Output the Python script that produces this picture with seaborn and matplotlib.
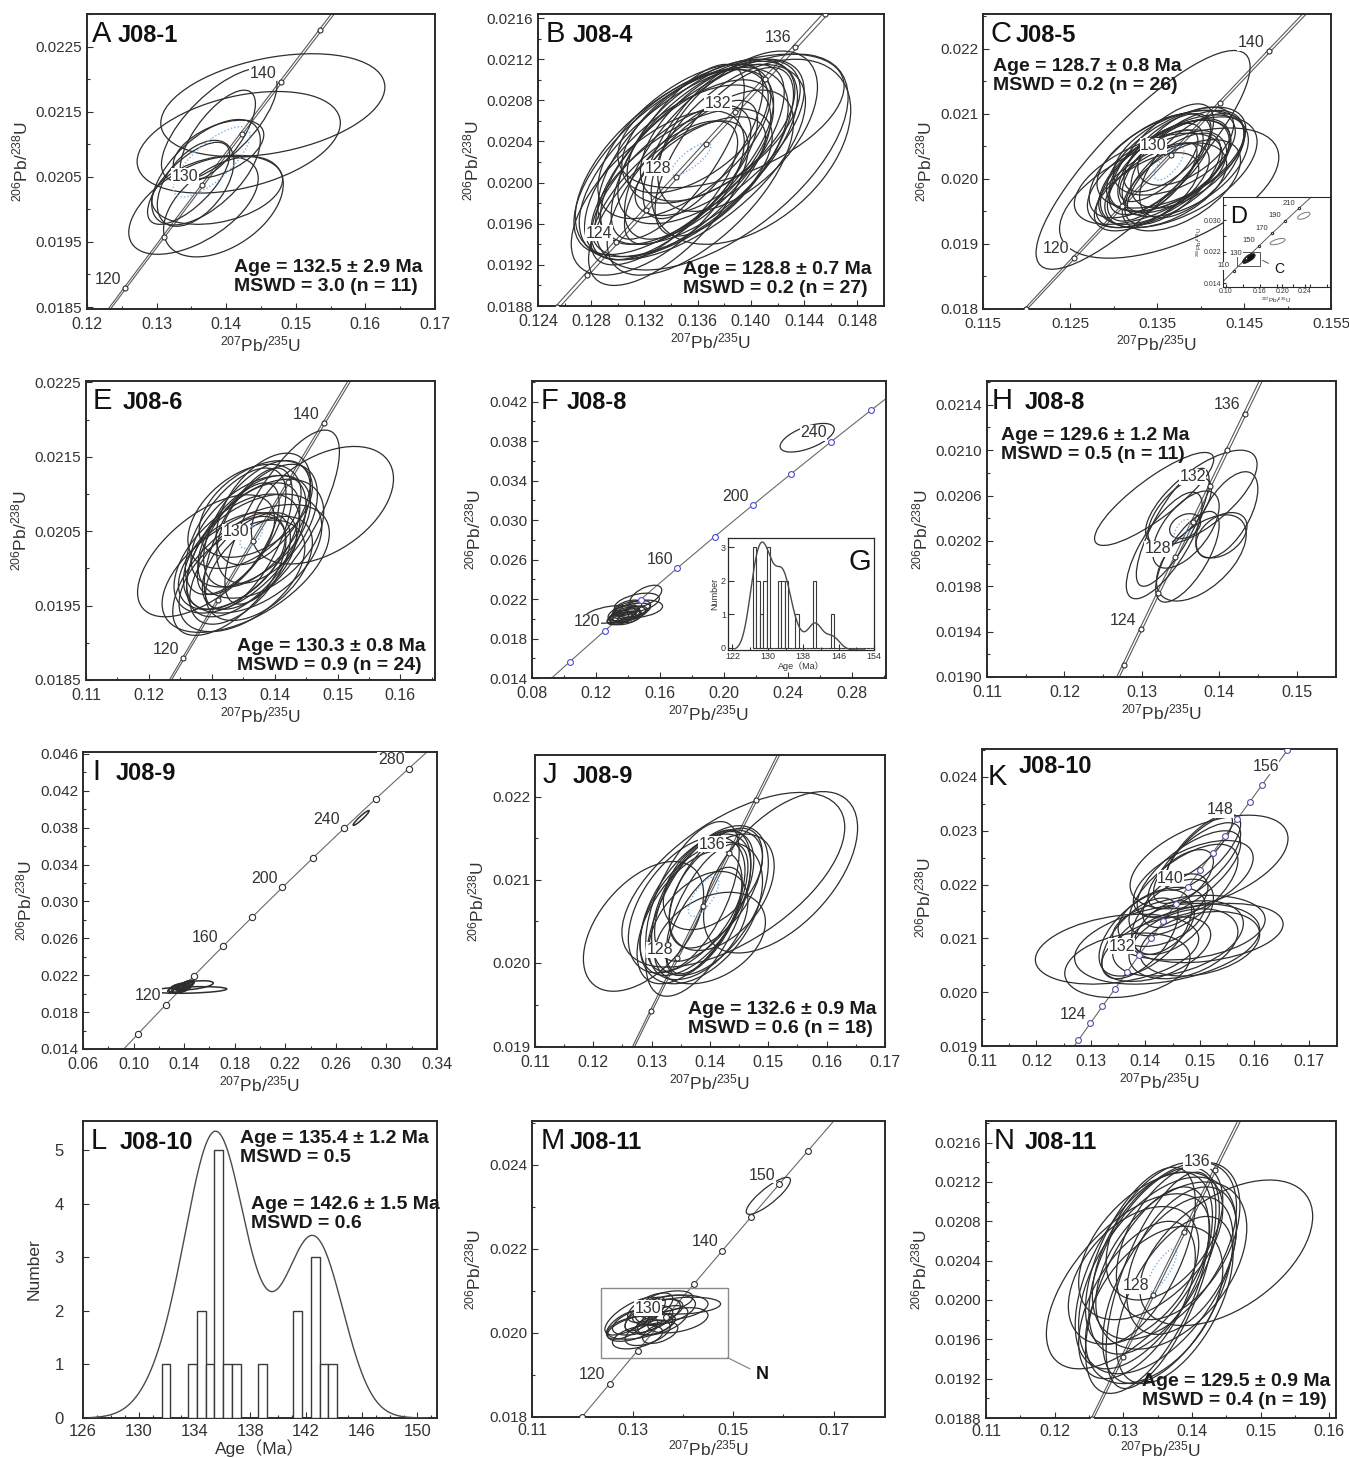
import numpy as np
import pandas as pd
import matplotlib
matplotlib.use("Agg")
import matplotlib.pyplot as plt
from matplotlib.patches import Ellipse, Rectangle
from matplotlib.ticker import FormatStrFormatter, AutoMinorLocator
import seaborn as sns

# ----------- CONSTANTES -----------
LAMBDA_238 = 1.55125e-10
LAMBDA_235 = 9.8485e-10
BAND = 0.0013          # erreur relative (2s) sur lambda 235 -> largeur de la bande concordia

INK = '#2e2e2e'
LINE = '#5a5a5a'
TICK = '#333333'
MEAN = '#7fb2e5'

# ----------- DONNÉES : (207Pb/235U, 206Pb/238U, 2s x, 2s y, rho) -----------
ell_A = [
    (0.1467, 0.02160, 0.0161, 0.00079, 0.35),
    (0.1418, 0.02103, 0.0146, 0.00078, 0.38),
    (0.1388, 0.02113, 0.0054, 0.00070, 0.70),
    (0.1390, 0.02130, 0.0083, 0.00087, 0.70),
    (0.1389, 0.02092, 0.0065, 0.00045, 0.50),
    (0.1353, 0.02006, 0.0093, 0.00075, 0.55),
    (0.1387, 0.02030, 0.0094, 0.00053, 0.30),
    (0.1396, 0.02004, 0.0086, 0.00077, 0.45),
    (0.1346, 0.02040, 0.0059, 0.00063, 0.70),
    (0.1371, 0.02057, 0.0078, 0.00081, 0.60),
    (0.1356, 0.02040, 0.0055, 0.00066, 0.50),
]
mean_A = (0.1379, 0.02073, 0.0055, 0.00054, 0.75)

ell_B = [
    (0.1345, 0.02010, 0.0070, 0.00085, 0.62),
    (0.1352, 0.02020, 0.0065, 0.00080, 0.65),
    (0.1340, 0.02000, 0.0060, 0.00075, 0.68),
    (0.1360, 0.02030, 0.0075, 0.00090, 0.60),
    (0.1335, 0.01990, 0.0055, 0.00070, 0.70),
    (0.1370, 0.02040, 0.0070, 0.00080, 0.62),
    (0.1348, 0.02020, 0.0080, 0.00092, 0.58),
    (0.1365, 0.02030, 0.0060, 0.00085, 0.68),
    (0.1355, 0.02010, 0.0050, 0.00070, 0.72),
    (0.1372, 0.02050, 0.0065, 0.00070, 0.58),
    (0.1378, 0.02020, 0.0095, 0.00105, 0.60),
    (0.1385, 0.02060, 0.0085, 0.00065, 0.52),
    (0.1400, 0.02030, 0.0075, 0.00090, 0.45),
    (0.1338, 0.01980, 0.0060, 0.00080, 0.68),
    (0.1350, 0.02040, 0.0065, 0.00075, 0.60),
    (0.1362, 0.02000, 0.0070, 0.00090, 0.65),
    (0.1345, 0.02030, 0.0050, 0.00085, 0.72),
    (0.1362, 0.02016, 0.0049, 0.00048, 0.60),
    (0.1358, 0.02050, 0.0055, 0.00060, 0.55),
    (0.1342, 0.02020, 0.0075, 0.00090, 0.65),
    (0.1375, 0.02050, 0.0058, 0.00068, 0.58),
    (0.1330, 0.01990, 0.0065, 0.00080, 0.62),
    (0.1356, 0.02020, 0.0085, 0.00095, 0.62),
    (0.1364, 0.02040, 0.0045, 0.00075, 0.70),
    (0.1390, 0.02050, 0.0060, 0.00078, 0.55),
    (0.1348, 0.02000, 0.0068, 0.00072, 0.62),
    (0.1380, 0.02030, 0.0052, 0.00082, 0.68),
]
mean_B = (0.1355, 0.02023, 0.0015, 0.00016, 0.80)

ell_C = [
    (0.1334, 0.02029, 0.0123, 0.00168, 0.85),
    (0.1364, 0.01978, 0.0126, 0.00100, 0.55),
    (0.1350, 0.02000, 0.0080, 0.00075, 0.55),
    (0.1358, 0.02010, 0.0075, 0.00080, 0.60),
    (0.1365, 0.02020, 0.0070, 0.00070, 0.55),
    (0.1345, 0.01990, 0.0065, 0.00065, 0.60),
    (0.1372, 0.02030, 0.0080, 0.00080, 0.58),
    (0.1380, 0.02020, 0.0075, 0.00078, 0.50),
    (0.1355, 0.02030, 0.0060, 0.00085, 0.70),
    (0.1340, 0.02000, 0.0085, 0.00070, 0.55),
    (0.1368, 0.02000, 0.0055, 0.00070, 0.65),
    (0.1385, 0.02030, 0.0065, 0.00075, 0.55),
    (0.1362, 0.02040, 0.0050, 0.00060, 0.65),
    (0.1352, 0.02020, 0.0045, 0.00055, 0.70),
    (0.1375, 0.02010, 0.0090, 0.00085, 0.55),
    (0.1360, 0.01990, 0.0070, 0.00065, 0.50),
    (0.1348, 0.02010, 0.0055, 0.00075, 0.68),
    (0.1390, 0.02020, 0.0060, 0.00080, 0.60),
    (0.1370, 0.02040, 0.0070, 0.00065, 0.50),
    (0.1342, 0.02020, 0.0070, 0.00080, 0.62),
    (0.1378, 0.01990, 0.0068, 0.00070, 0.55),
    (0.1366, 0.02030, 0.0085, 0.00075, 0.50),
    (0.1356, 0.02000, 0.0040, 0.00055, 0.75),
    (0.1383, 0.02050, 0.0055, 0.00060, 0.55),
    (0.1338, 0.01980, 0.0060, 0.00060, 0.60),
    (0.1372, 0.02020, 0.0062, 0.00072, 0.58),
]
mean_C = (0.1364, 0.02024, 0.0017, 0.00026, 0.70)

ell_D = [
    (0.1400, 0.02030, 0.0097, 0.00120, 0.70),
    (0.1380, 0.02000, 0.0080, 0.00090, 0.70),
    (0.1430, 0.02050, 0.0090, 0.00100, 0.60),
]
ell_D_out = [
    (0.1920, 0.02460, 0.0133, 0.00080, 0.60),
    (0.2385, 0.03120, 0.0110, 0.00090, 0.60),
]
box_C = (0.1194, 0.0184, 0.1609, 0.0219)

ell_E = [
    (0.1476, 0.02085, 0.0113, 0.00079, 0.45),
    (0.1354, 0.02000, 0.0133, 0.00086, 0.55),
    (0.1291, 0.02017, 0.0109, 0.00082, 0.60),
    (0.1412, 0.02069, 0.0091, 0.00117, 0.75),
    (0.1340, 0.02020, 0.0100, 0.00080, 0.55),
    (0.1350, 0.02030, 0.0090, 0.00085, 0.60),
    (0.1362, 0.02050, 0.0095, 0.00075, 0.50),
    (0.1372, 0.02060, 0.0085, 0.00085, 0.55),
    (0.1345, 0.02000, 0.0080, 0.00075, 0.55),
    (0.1358, 0.02040, 0.0070, 0.00095, 0.65),
    (0.1378, 0.02040, 0.0100, 0.00080, 0.45),
    (0.1332, 0.02010, 0.0085, 0.00065, 0.50),
    (0.1365, 0.02020, 0.0110, 0.00080, 0.45),
    (0.1352, 0.02070, 0.0090, 0.00070, 0.45),
    (0.1388, 0.02060, 0.0080, 0.00080, 0.50),
    (0.1342, 0.02040, 0.0065, 0.00075, 0.65),
    (0.1360, 0.02010, 0.0075, 0.00065, 0.55),
    (0.1328, 0.01990, 0.0090, 0.00080, 0.60),
    (0.1382, 0.02080, 0.0075, 0.00075, 0.50),
    (0.1348, 0.01990, 0.0100, 0.00075, 0.50),
    (0.1370, 0.02080, 0.0090, 0.00065, 0.45),
    (0.1338, 0.02050, 0.0080, 0.00085, 0.60),
    (0.1375, 0.02000, 0.0085, 0.00070, 0.50),
    (0.1355, 0.02030, 0.0095, 0.00095, 0.58),
]
mean_E = (0.1363, 0.02043, 0.0018, 0.00016, 0.60)

ell_F = [
    (0.2518, 0.03835, 0.0169, 0.00145, 0.60),
    (0.1286, 0.02044, 0.0159, 0.00090, 0.40),
    (0.1510, 0.02230, 0.0100, 0.00110, 0.55),
    (0.1455, 0.02160, 0.0140, 0.00100, 0.45),
    (0.1465, 0.02100, 0.0150, 0.00090, 0.30),
    (0.1380, 0.02030, 0.0100, 0.00070, 0.50),
    (0.1360, 0.02010, 0.0090, 0.00065, 0.55),
    (0.1400, 0.02050, 0.0110, 0.00075, 0.45),
    (0.1350, 0.02000, 0.0080, 0.00060, 0.50),
    (0.1420, 0.02080, 0.0120, 0.00080, 0.50),
    (0.1390, 0.02040, 0.0085, 0.00070, 0.55),
    (0.1370, 0.02060, 0.0095, 0.00080, 0.50),
    (0.1410, 0.02020, 0.0075, 0.00060, 0.40),
    (0.1440, 0.02100, 0.0100, 0.00085, 0.50),
    (0.1340, 0.02020, 0.0070, 0.00065, 0.60),
    (0.1430, 0.02060, 0.0090, 0.00070, 0.45),
    (0.1375, 0.01995, 0.0085, 0.00055, 0.40),
    (0.1395, 0.02110, 0.0090, 0.00080, 0.50),
]

ell_H = [
    (0.1316, 0.02057, 0.0077, 0.00041, 0.85),
    (0.1377, 0.02058, 0.0072, 0.00042, 0.70),
    (0.1410, 0.02043, 0.0040, 0.00038, 0.60),
    (0.1403, 0.02025, 0.0033, 0.00020, 0.40),
    (0.1329, 0.02016, 0.0049, 0.00047, 0.75),
    (0.1340, 0.02032, 0.0047, 0.00052, 0.80),
    (0.1359, 0.02006, 0.0041, 0.00040, 0.70),
    (0.1377, 0.02005, 0.0058, 0.00038, 0.55),
    (0.1356, 0.02033, 0.0020, 0.00011, 0.30),
    (0.1349, 0.02046, 0.0041, 0.00030, 0.65),
    (0.1357, 0.02030, 0.0043, 0.00034, 0.60),
]
mean_H = (0.1352, 0.02030, 0.0010, 0.00009, 0.60)

ell_I = [
    (0.2800, 0.03905, 0.0063, 0.00080, 0.95),
    (0.1447, 0.02040, 0.0290, 0.00036, 0.30),
    (0.1465, 0.02090, 0.0165, 0.00050, 0.50),
    (0.1380, 0.02060, 0.0080, 0.00050, 0.60),
    (0.1400, 0.02080, 0.0070, 0.00045, 0.60),
    (0.1360, 0.02050, 0.0090, 0.00040, 0.55),
    (0.1420, 0.02100, 0.0060, 0.00040, 0.60),
    (0.1390, 0.02070, 0.0050, 0.00035, 0.60),
    (0.1370, 0.02040, 0.0060, 0.00030, 0.50),
    (0.1410, 0.02090, 0.0055, 0.00040, 0.60),
    (0.1350, 0.02060, 0.0070, 0.00045, 0.50),
    (0.1430, 0.02110, 0.0050, 0.00035, 0.60),
]

ell_J = [
    (0.1521, 0.02109, 0.0132, 0.00097, 0.55),
    (0.1440, 0.02100, 0.0191, 0.00105, 0.60),
    (0.1286, 0.02044, 0.0103, 0.00078, 0.50),
    (0.1380, 0.02060, 0.0090, 0.00100, 0.60),
    (0.1375, 0.02070, 0.0095, 0.00085, 0.55),
    (0.1390, 0.02080, 0.0085, 0.00078, 0.55),
    (0.1400, 0.02075, 0.0100, 0.00090, 0.50),
    (0.1365, 0.02055, 0.0090, 0.00080, 0.55),
    (0.1410, 0.02090, 0.0080, 0.00072, 0.55),
    (0.1385, 0.02060, 0.0105, 0.00085, 0.45),
    (0.1370, 0.02080, 0.0080, 0.00090, 0.60),
    (0.1395, 0.02065, 0.0070, 0.00078, 0.65),
    (0.1420, 0.02085, 0.0090, 0.00070, 0.45),
    (0.1380, 0.02045, 0.0085, 0.00065, 0.45),
    (0.1360, 0.02070, 0.0100, 0.00082, 0.50),
    (0.1405, 0.02100, 0.0085, 0.00060, 0.45),
    (0.1390, 0.02050, 0.0065, 0.00065, 0.65),
    (0.1400, 0.02030, 0.0095, 0.00055, 0.35),
]
mean_J = (0.1389, 0.02080, 0.0026, 0.00024, 0.70)

ell_K = [
    (0.1480, 0.02220, 0.0095, 0.00080, 0.70),
    (0.1495, 0.02240, 0.0080, 0.00075, 0.72),
    (0.1470, 0.02190, 0.0100, 0.00085, 0.65),
    (0.1505, 0.02260, 0.0070, 0.00070, 0.75),
    (0.1488, 0.02210, 0.0110, 0.00072, 0.55),
    (0.1465, 0.02210, 0.0060, 0.00055, 0.60),
    (0.1517, 0.02242, 0.0145, 0.00087, 0.50),
    (0.1500, 0.02270, 0.0060, 0.00060, 0.80),
    (0.1455, 0.02170, 0.0060, 0.00050, 0.50),
    (0.1348, 0.02080, 0.0150, 0.00065, 0.30),
    (0.1440, 0.02090, 0.0170, 0.00075, 0.35),
    (0.1480, 0.02120, 0.0140, 0.00060, 0.25),
    (0.1460, 0.02100, 0.0120, 0.00070, 0.40),
    (0.1420, 0.02080, 0.0100, 0.00060, 0.45),
    (0.1400, 0.02110, 0.0085, 0.00080, 0.55),
    (0.1430, 0.02140, 0.0080, 0.00055, 0.40),
    (0.1367, 0.02050, 0.0115, 0.00060, 0.25),
    (0.1470, 0.02090, 0.0100, 0.00065, 0.35),
    (0.1390, 0.02100, 0.0070, 0.00075, 0.60),
    (0.1450, 0.02140, 0.0075, 0.00070, 0.50),
    (0.1513, 0.02110, 0.0140, 0.00055, 0.30),
    (0.1435, 0.02120, 0.0055, 0.00050, 0.55),
    (0.1500, 0.02090, 0.0110, 0.00060, 0.30),
]

ell_M = [
    (0.1570, 0.02326, 0.0044, 0.00044, 0.85),
    (0.1300, 0.02010, 0.0050, 0.00030, 0.50),
    (0.1320, 0.02030, 0.0060, 0.00035, 0.55),
    (0.1340, 0.02040, 0.0055, 0.00040, 0.60),
    (0.1310, 0.01990, 0.0050, 0.00028, 0.45),
    (0.1350, 0.02050, 0.0050, 0.00030, 0.50),
    (0.1365, 0.02055, 0.0060, 0.00035, 0.40),
    (0.1330, 0.02000, 0.0045, 0.00030, 0.50),
    (0.1290, 0.02020, 0.0042, 0.00035, 0.60),
    (0.1380, 0.02060, 0.0070, 0.00030, 0.30),
    (0.1405, 0.02065, 0.0070, 0.00020, 0.20),
    (0.1390, 0.02030, 0.0060, 0.00030, 0.40),
    (0.1345, 0.02020, 0.0040, 0.00025, 0.50),
    (0.1325, 0.02045, 0.0040, 0.00040, 0.70),
    (0.1360, 0.02030, 0.0050, 0.00035, 0.55),
    (0.1300, 0.02040, 0.0055, 0.00045, 0.70),
    (0.1370, 0.02075, 0.0050, 0.00025, 0.40),
    (0.1335, 0.02060, 0.0045, 0.00035, 0.60),
    (0.1315, 0.02015, 0.0065, 0.00030, 0.45),
    (0.1355, 0.02000, 0.0035, 0.00025, 0.50),
]
box_N = (0.1237, 0.01941, 0.1489, 0.02106)

ell_N = [
    (0.1450, 0.02048, 0.0126, 0.00074, 0.50),
    (0.1307, 0.02019, 0.0119, 0.00089, 0.60),
    (0.1330, 0.02030, 0.0100, 0.00100, 0.55),
    (0.1345, 0.02040, 0.0095, 0.00095, 0.55),
    (0.1360, 0.02050, 0.0105, 0.00090, 0.50),
    (0.1335, 0.02010, 0.0090, 0.00105, 0.60),
    (0.1370, 0.02035, 0.0110, 0.00085, 0.45),
    (0.1320, 0.02000, 0.0085, 0.00080, 0.55),
    (0.1355, 0.02020, 0.0080, 0.00110, 0.65),
    (0.1380, 0.02060, 0.0090, 0.00080, 0.45),
    (0.1340, 0.02055, 0.0105, 0.00075, 0.50),
    (0.1365, 0.02010, 0.0095, 0.00095, 0.55),
    (0.1325, 0.02045, 0.0080, 0.00090, 0.60),
    (0.1350, 0.02025, 0.0115, 0.00100, 0.50),
    (0.1385, 0.02040, 0.0080, 0.00075, 0.45),
    (0.1315, 0.02025, 0.0095, 0.00070, 0.45),
    (0.1375, 0.02000, 0.0085, 0.00085, 0.55),
    (0.1345, 0.01995, 0.0100, 0.00080, 0.45),
    (0.1360, 0.02070, 0.0085, 0.00070, 0.45),
]
mean_N = (0.1356, 0.02030, 0.0022, 0.00022, 0.80)

# âges des grains (histogrammes L et G)
ages_L = [132.0, 133.8, 134.4, 134.5, 135.1, 135.7, 135.7, 135.8, 135.8, 135.9,
          136.4, 137.0, 138.9, 141.4, 141.5, 142.6, 142.7, 142.7, 143.3, 143.9]
bins_L = (131.64, 0.63)
ages_G = [126.8, 127.0, 127.2, 127.6, 127.9, 128.5, 129.3, 129.6, 130.0, 130.2, 130.4,
          132.5, 132.8, 133.2, 133.5, 134.1, 134.4, 136.6, 140.5, 140.8, 144.6]
bins_G = (126.6, 0.8)

# étiquettes des âges sur la concordia
conc_A = [120, 130, 140]
conc_B = [124, 128, 132, 136]
conc_C = [120, 130, 140]
conc_D = [110, 130, 150, 170, 190, 210]
conc_E = [120, 130, 140]
conc_F = [120, 160, 200, 240]
conc_H = [124, 128, 132, 136]
conc_I = [120, 160, 200, 240, 280]
conc_J = [128, 136]
conc_K = [124, 132, 140, 148, 156]
conc_M = [120, 130, 140, 150]
conc_N = [128, 136]

# ----------- MISE EN PAGE -----------
sns.set_style('ticks')
plt.rcParams['font.family'] = ['Liberation Sans', 'DejaVu Sans']
plt.rcParams['axes.unicode_minus'] = False

W, H = 1349, 1458
fig = plt.figure(figsize=(W / 100, H / 100), dpi=100)

BOX = {
    'A': (87, 14, 435, 309), 'B': (538, 14, 884, 306), 'C': (983, 14, 1331, 309),
    'E': (86, 381, 435, 680), 'F': (532, 381, 886, 678), 'H': (987, 381, 1336, 677),
    'I': (83, 752, 437, 1049), 'J': (535, 755, 885, 1047), 'K': (982, 749, 1337, 1046),
    'L': (83, 1121, 437, 1418), 'M': (532, 1121, 885, 1417), 'N': (986, 1121, 1336, 1418),
    'D': (1223, 197, 1330, 287), 'G': (728, 538, 874, 650),
}

XLAB = r'$\mathregular{^{207}Pb/^{235}U}$'
YLAB = r'$\mathregular{^{206}Pb/^{238}U}$'


def new_axes(key):
    l, t, r, b = BOX[key]
    return fig.add_axes([l / W, 1 - b / H, (r - l) / W, (b - t) / H])


def concordia(ages, k=0.0):
    t = np.asarray(ages, dtype=float) * 1e6
    return np.expm1(LAMBDA_235 * (1 + k) * t), np.expm1(LAMBDA_238 * t)


def draw_concordia(ax, marks, labels, band=True, color=LINE, mcolor=INK, fs=11.5, ms=3.6, lw=0.8,
                   shift=None):
    shift = shift or {}
    t = np.linspace(40, 360, 800)
    for k in ([-BAND, BAND] if band else [0.0]):
        cx, cy = concordia(t, k)
        sns.lineplot(x=cx, y=cy, sort=False, estimator=None, color=color, lw=lw, ax=ax, zorder=2)
    mx, my = concordia(marks)
    ax.plot(mx, my, 'o', ms=ms, mfc='white', mec=mcolor, mew=0.8, zorder=4)
    lx, ly = concordia(labels)
    for a, x, y in zip(labels, lx, ly):
        ax.annotate(str(a), (x, y), xytext=shift.get(a, (-3, 1)), textcoords='offset points',
                    ha='right', va='bottom', fontsize=fs, color='#333333', zorder=6,
                    bbox=dict(fc='white', ec='none', pad=0.3))


def draw_ellipses(ax, rows, color=INK, lw=0.9, ls='-', face='none', z=3):
    df = pd.DataFrame(rows, columns=['x', 'y', 'sx', 'sy', 'rho'])
    for r in df.itertuples():
        cov = np.array([[r.sx ** 2, r.rho * r.sx * r.sy], [r.rho * r.sx * r.sy, r.sy ** 2]])
        w, v = np.linalg.eigh(cov)
        ang = np.degrees(np.arctan2(v[1, 1], v[0, 1]))
        ax.add_patch(Ellipse((r.x, r.y), 2 * np.sqrt(w[1]), 2 * np.sqrt(w[0]), angle=ang,
                             fc=face, ec=color, lw=lw, ls=ls, zorder=z))


def style(ax, xlim, ylim, xticks, yticks, xfmt, yfmt, xsize=11.5, ysize=11, lab=12.5,
          xlabel=XLAB, ylabel=YLAB, spine=1.4, xpad=5.5):
    ax.set_xlim(*xlim)
    ax.set_ylim(*ylim)
    ax.set_xticks(xticks)
    ax.set_yticks(yticks)
    ax.xaxis.set_major_formatter(FormatStrFormatter(xfmt))
    ax.yaxis.set_major_formatter(FormatStrFormatter(yfmt))
    ax.xaxis.set_minor_locator(AutoMinorLocator(2))
    ax.yaxis.set_minor_locator(AutoMinorLocator(2))
    ax.tick_params(which='both', direction='in', colors=TICK, width=0.8)
    ax.tick_params(axis='x', labelsize=xsize, pad=xpad)
    ax.tick_params(axis='y', labelsize=ysize)
    ax.tick_params(which='major', length=4)
    ax.tick_params(which='minor', length=2)
    for s in ax.spines.values():
        s.set_color('#2a2a2a')
        s.set_linewidth(spine)
    ax.set_xlabel(xlabel, fontsize=lab, color=TICK, labelpad=2)
    ax.set_ylabel(ylabel, fontsize=lab, color=TICK)


def title(ax, letter, name, lx=8, nx=34, base=28, nbase=None):
    ax.annotate(letter, xy=(0, 1), xycoords='axes fraction', xytext=(lx, -base),
                textcoords='offset pixels', ha='left', va='baseline', fontsize=21, color='#111111')
    ax.annotate(name, xy=(0, 1), xycoords='axes fraction', xytext=(nx, -(nbase or base)),
                textcoords='offset pixels', ha='left', va='baseline', fontsize=17,
                fontweight='bold', color='#111111')


def age_text(ax, txt, corner, dx, dy, fs=14):
    if corner == 'br':
        ax.annotate(txt, xy=(1, 0), xycoords='axes fraction', xytext=(-dx, dy),
                    textcoords='offset pixels', ha='right', va='bottom', multialignment='left',
                    fontsize=fs, fontweight='bold', color='#1a1a1a', linespacing=1.12, zorder=7)
    else:
        ax.annotate(txt, xy=(0, 1), xycoords='axes fraction', xytext=(dx, -dy),
                    textcoords='offset pixels', ha='left', va='top', multialignment='left',
                    fontsize=fs, fontweight='bold', color='#1a1a1a', linespacing=1.12, zorder=7)


def histogram(ax, ages, bins, peak, top, bw, clip, lw=1.0):
    start, width = bins
    edges = start + width * np.arange(40)
    sns.histplot(x=ages, bins=edges, ax=ax, color='white', edgecolor='#3a3a3a',
                 linewidth=lw, alpha=1, zorder=3)
    ax2 = ax.twinx()
    sns.kdeplot(x=ages, bw_method=bw, cut=5, clip=clip, gridsize=400, ax=ax2,
                color='#4a4a4a', lw=1.0)
    ymax = ax2.lines[-1].get_ydata().max()
    lo, hi = ax.get_ylim()
    ax2.set_ylim(lo * ymax / peak, top * ymax / peak)
    ax2.set_axis_off()
    return ax2


def rng(a, b, s):
    return np.round(np.arange(a, b + s / 2, s), 6)


# ----------- A -----------
ax = new_axes('A')
draw_concordia(ax, rng(115, 155, 5), conc_A)
draw_ellipses(ax, ell_A)
draw_ellipses(ax, [mean_A], color=MEAN, ls=(0, (1, 1.5)), lw=1.0)
style(ax, (0.12, 0.17), (0.01847, 0.0230), rng(0.12, 0.17, 0.01), rng(0.0185, 0.0225, 0.001), '%.2f', '%.4f')
title(ax, 'A', 'J08-1', 5, 31)
age_text(ax, 'Age = 132.5 ± 2.9 Ma\nMSWD = 3.0 (n = 11)', 'br', 12, 14)

# ----------- B -----------
ax = new_axes('B')
draw_concordia(ax, rng(118, 140, 2), conc_B)
draw_ellipses(ax, ell_B)
draw_ellipses(ax, [mean_B], color=MEAN, ls=(0, (1, 1.5)), lw=1.0)
style(ax, (0.124, 0.150), (0.0188, 0.02164), rng(0.124, 0.148, 0.004), rng(0.0188, 0.0216, 0.0004), '%.3f', '%.4f')
title(ax, 'B', 'J08-4', 8, 35)
age_text(ax, 'Age = 128.8 ± 0.7 Ma\nMSWD = 0.2 (n = 27)', 'br', 12, 9)

# ----------- C + D -----------
ax = new_axes('C')
draw_concordia(ax, rng(115, 145, 5), conc_C)
draw_ellipses(ax, ell_C)
draw_ellipses(ax, [mean_C], color=MEAN, ls=(0, (1, 1.5)), lw=1.0)
style(ax, (0.115, 0.155), (0.018, 0.02253), rng(0.115, 0.155, 0.01), rng(0.018, 0.022, 0.001), '%.3f', '%.3f',
      xsize=11)
title(ax, 'C', 'J08-5', 8, 33)
age_text(ax, 'Age = 128.7 ± 0.8 Ma\nMSWD = 0.2 (n = 26)', 'tl', 10, 44)

ax = new_axes('D')
ax.set_facecolor('white')
draw_concordia(ax, conc_D, conc_D, band=False, fs=5.5, ms=1.6, lw=0.7)
draw_ellipses(ax, ell_D, face='#111111', lw=0.8)
draw_ellipses(ax, ell_D_out, color='#777777', lw=0.7)
x0, y0, x1, y1 = box_C
ax.add_patch(Rectangle((x0, y0), x1 - x0, y1 - y0, fill=False, ec='#555555', lw=0.7, zorder=5))
ax.annotate('C', xy=(x1, (y0 + y1) / 2), xytext=(0.186, 0.0176), fontsize=10, color='#111111',
            ha='left', va='center', arrowprops=dict(arrowstyle='-', color='#555555', lw=0.7))
style(ax, (0.095, 0.285), (0.013, 0.036), [0.10, 0.16, 0.20, 0.24], [0.014, 0.022, 0.030],
      '%.2f', '%.3f', xsize=5, ysize=5, lab=4.5, spine=0.8, xpad=1)
ax.xaxis.labelpad = 0
ax.yaxis.labelpad = 0
ax.tick_params(axis='y', pad=1)
ax.tick_params(length=2)
ax.annotate('D', xy=(0, 1), xycoords='axes fraction', xytext=(7, -26), textcoords='offset pixels',
            ha='left', va='baseline', fontsize=17, color='#111111')

# ----------- E -----------
ax = new_axes('E')
draw_concordia(ax, rng(115, 145, 5), conc_E)
draw_ellipses(ax, ell_E)
draw_ellipses(ax, [mean_E], color=MEAN, ls=(0, (1, 1.5)), lw=1.0)
style(ax, (0.11, 0.1655), (0.0185, 0.02252), rng(0.11, 0.16, 0.01), rng(0.0185, 0.0225, 0.001), '%.2f', '%.4f')
title(ax, 'E', 'J08-6', 7, 37)
age_text(ax, 'Age = 130.3 ± 0.8 Ma\nMSWD = 0.9 (n = 24)', 'br', 9, 6)

# ----------- F + G -----------
ax = new_axes('F')
draw_concordia(ax, rng(100, 280, 20), conc_F, band=False, mcolor='#4b4bd6', ms=4.2, color='#6a6a6a')
draw_ellipses(ax, ell_F)
style(ax, (0.08, 0.301), (0.014, 0.0441), rng(0.08, 0.28, 0.04), rng(0.014, 0.042, 0.004), '%.2f', '%.3f')
title(ax, 'F', 'J08-8', 9, 35)

ax = new_axes('G')
ax.set_facecolor('white')
histogram(ax, ages_G, bins_G, 3.15, 3.27, 0.33, (122.5, 152.0), lw=0.8)
style(ax, (121, 153.8), (-0.07, 3.27), [122, 130, 138, 146, 154], [0, 1, 2, 3], '%d', '%d',
      xsize=6.5, ysize=6.5, lab=6.5, xlabel='Age（Ma）', ylabel='Number', spine=0.9, xpad=1.5)
ax.xaxis.label.set_family(['Liberation Sans', 'Noto Sans CJK SC'])
ax.xaxis.labelpad = 0
ax.yaxis.labelpad = 1
ax.tick_params(axis='y', pad=1.5)
ax.yaxis.set_minor_locator(AutoMinorLocator(1))
ax.annotate('G', xy=(1, 1), xycoords='axes fraction', xytext=(-3, -32), textcoords='offset pixels',
            ha='right', va='baseline', fontsize=21, color='#111111', zorder=8)

# ----------- H -----------
ax = new_axes('H')
draw_concordia(ax, rng(118, 140, 2), conc_H)
draw_ellipses(ax, ell_H)
draw_ellipses(ax, [mean_H], color=MEAN, ls=(0, (1, 1.5)), lw=1.0)
style(ax, (0.11, 0.1551), (0.0190, 0.02161), rng(0.11, 0.15, 0.01), rng(0.0190, 0.0214, 0.0004), '%.2f', '%.4f')
title(ax, 'H', 'J08-8', 5, 38)
age_text(ax, 'Age = 129.6 ± 1.2 Ma\nMSWD = 0.5 (n = 11)', 'tl', 14, 46)

# ----------- I -----------
ax = new_axes('I')
draw_concordia(ax, rng(100, 300, 20), conc_I, band=False, ms=4.5, color='#6a6a6a')
draw_ellipses(ax, ell_I, lw=1.1)
style(ax, (0.06, 0.34), (0.014, 0.0462), rng(0.06, 0.34, 0.04), rng(0.014, 0.046, 0.004), '%.2f', '%.3f')
title(ax, 'I', 'J08-9', 9, 33)

# ----------- J -----------
ax = new_axes('J')
draw_concordia(ax, rng(116, 144, 4), conc_J)
draw_ellipses(ax, ell_J)
draw_ellipses(ax, [mean_J], color=MEAN, ls=(0, (1, 1.5)), lw=1.0)
style(ax, (0.11, 0.17), (0.01899, 0.0225), rng(0.11, 0.17, 0.01), rng(0.019, 0.022, 0.001), '%.2f', '%.3f')
title(ax, 'J', 'J08-9', 8, 38)
age_text(ax, 'Age = 132.6 ± 0.9 Ma\nMSWD = 0.6 (n = 18)', 'br', 8, 10)

# ----------- K -----------
ax = new_axes('K')
draw_concordia(ax, rng(122, 158, 2), conc_K, band=False, mcolor='#56509e', ms=4.2, color='#6a6a6a',
               shift={156: (-6, -17)})
draw_ellipses(ax, ell_K)
style(ax, (0.11, 0.1752), (0.019, 0.02452), rng(0.11, 0.17, 0.01), rng(0.019, 0.024, 0.001), '%.2f', '%.3f')
title(ax, 'K', 'J08-10', 6, 37, base=36, nbase=24)

# ----------- L -----------
ax = new_axes('L')
histogram(ax, ages_L, bins_L, 5.35, 5.54, 0.5, (126.5, 150.8))
style(ax, (126, 151.4), (0, 5.54), rng(126, 150, 4), [0, 1, 2, 3, 4, 5], '%d', '%d',
      xsize=12, ysize=12, lab=12.5, xlabel='Age（Ma）', ylabel='Number', xpad=4.5)
ax.xaxis.label.set_family(['Liberation Sans', 'Noto Sans CJK SC'])
ax.xaxis.labelpad = 0
ax.tick_params(axis='y', pad=14)
ax.yaxis.labelpad = 9
ax.xaxis.set_minor_locator(AutoMinorLocator(4))
ax.yaxis.set_minor_locator(AutoMinorLocator(1))
title(ax, 'L', 'J08-10', 8, 37)
age_text(ax, 'Age = 135.4 ± 1.2 Ma\nMSWD = 0.5', 'tl', 157, 9)
age_text(ax, 'Age = 142.6 ± 1.5 Ma\nMSWD = 0.6', 'tl', 168, 75)

# ----------- M -----------
ax = new_axes('M')
draw_concordia(ax, rng(115, 160, 5), conc_M, band=False, ms=4.2, color='#6a6a6a')
draw_ellipses(ax, ell_M)
x0, y0, x1, y1 = box_N
ax.add_patch(Rectangle((x0, y0), x1 - x0, y1 - y0, fill=False, ec='#8a8a8a', lw=1.0, zorder=5))
ax.annotate('N', xy=(x1, y0), xytext=(0.1545, 0.0190), fontsize=13, fontweight='bold',
            color='#111111', ha='left', va='center',
            arrowprops=dict(arrowstyle='-', color='#8a8a8a', lw=0.9, shrinkA=2, shrinkB=0))
style(ax, (0.11, 0.1802), (0.018, 0.02504), [0.11, 0.13, 0.15, 0.17], [0.018, 0.020, 0.022, 0.024], '%.2f', '%.3f',
      xpad=4.5)
ax.xaxis.labelpad = 0
title(ax, 'M', 'J08-11', 9, 38)

# ----------- N -----------
ax = new_axes('N')
draw_concordia(ax, rng(120, 140, 4), conc_N)
draw_ellipses(ax, ell_N)
draw_ellipses(ax, [mean_N], color=MEAN, ls=(0, (1, 1.5)), lw=1.0)
style(ax, (0.11, 0.161), (0.0188, 0.02182), rng(0.11, 0.16, 0.01), rng(0.0188, 0.0216, 0.0004), '%.2f', '%.4f',
      xpad=4.5)
ax.xaxis.labelpad = 0
title(ax, 'N', 'J08-11', 8, 39)
age_text(ax, 'Age = 129.5 ± 0.9 Ma\nMSWD = 0.4 (n = 19)', 'br', 6, 9)

plt.savefig('out.png', dpi=100)
